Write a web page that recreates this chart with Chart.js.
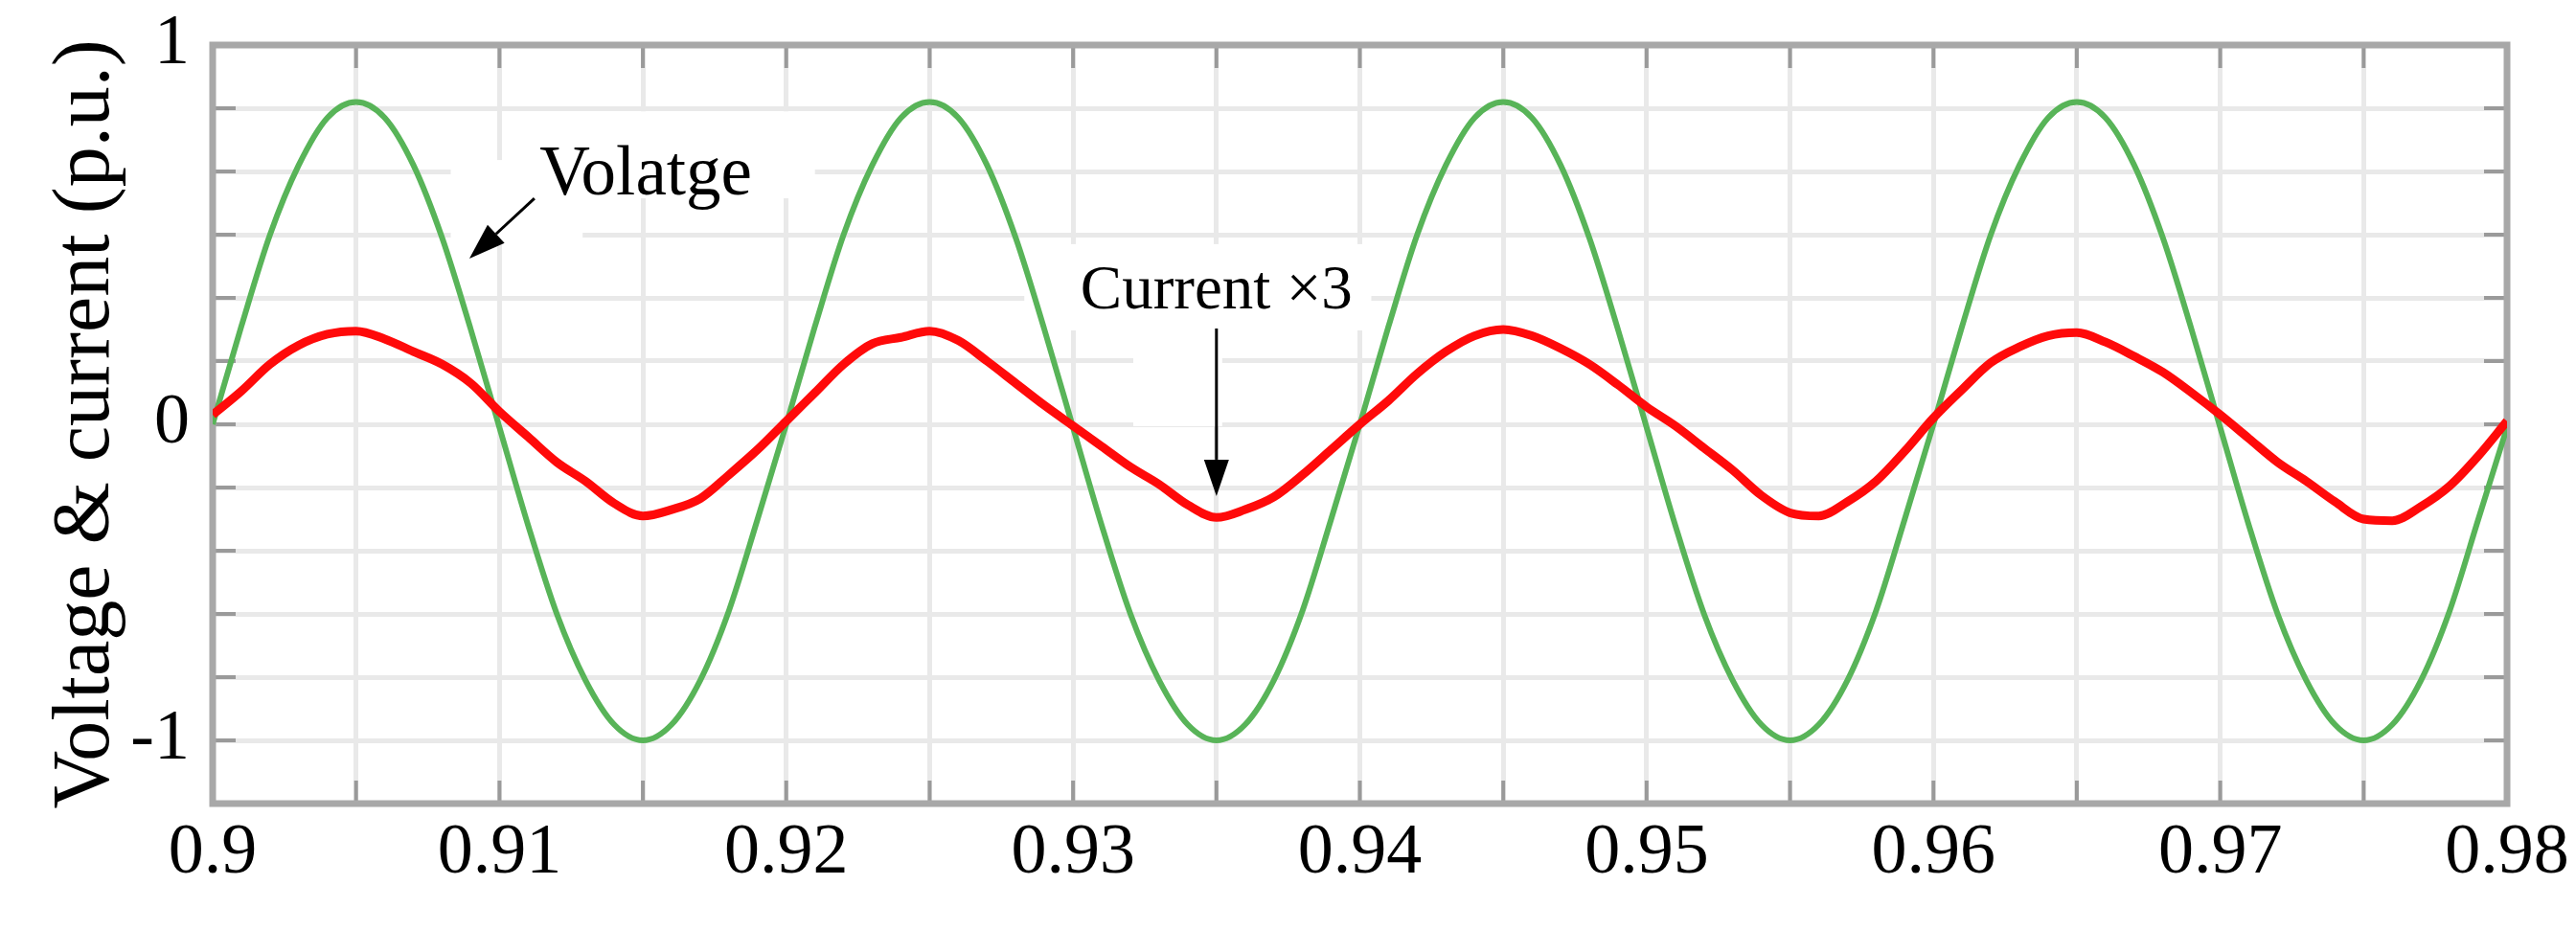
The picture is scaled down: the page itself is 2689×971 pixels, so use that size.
<!DOCTYPE html>
<html>
<head>
<meta charset="utf-8">
<script src="https://cdn.jsdelivr.net/npm/chart.js@4.4.0/dist/chart.umd.min.js"></script>
<style>
html, body { margin: 0; padding: 0; background: #fff; }
#wrap { width: 2689px; height: 971px; }
</style>
</head>
<body>
<div id="wrap"><canvas id="mycanvas"></canvas></div>
<script>
// time (s)
var timeS = [
	0.900, 0.901, 0.902, 0.903, 0.904, 0.905, 0.906, 0.907, 0.908, 0.909,
	0.910, 0.911, 0.912, 0.913, 0.914, 0.915, 0.916, 0.917, 0.918, 0.919,
	0.920, 0.921, 0.922, 0.923, 0.924, 0.925, 0.926, 0.927, 0.928, 0.929,
	0.930, 0.931, 0.932, 0.933, 0.934, 0.935, 0.936, 0.937, 0.938, 0.939,
	0.940, 0.941, 0.942, 0.943, 0.944, 0.945, 0.946, 0.947, 0.948, 0.949,
	0.950, 0.951, 0.952, 0.953, 0.954, 0.955, 0.956, 0.957, 0.958, 0.959,
	0.960, 0.961, 0.962, 0.963, 0.964, 0.965, 0.966, 0.967, 0.968, 0.969,
	0.970, 0.971, 0.972, 0.973, 0.974, 0.975, 0.976, 0.977, 0.978, 0.979,
	0.980
];

var voltage = [
	0.00, 0.31, 0.60, 0.82, 0.97, 1.02, 0.97, 0.82, 0.59, 0.30,
	-0.01, -0.32, -0.60, -0.81, -0.95, -1.00, -0.95, -0.81, -0.59, -0.30,
	0.00, 0.31, 0.60, 0.82, 0.97, 1.02, 0.97, 0.82, 0.59, 0.30,
	-0.01, -0.32, -0.60, -0.81, -0.95, -1.00, -0.95, -0.81, -0.59, -0.30,
	0.00, 0.31, 0.60, 0.82, 0.97, 1.02, 0.97, 0.82, 0.59, 0.30,
	-0.01, -0.32, -0.60, -0.81, -0.95, -1.00, -0.95, -0.81, -0.59, -0.30,
	0.00, 0.31, 0.60, 0.82, 0.97, 1.02, 0.97, 0.82, 0.59, 0.30,
	-0.01, -0.32, -0.60, -0.81, -0.95, -1.00, -0.95, -0.81, -0.59, -0.30,
	-0.01
];

// current x3
var current = [
	0.03, 0.105, 0.19, 0.25, 0.285, 0.295, 0.27, 0.23, 0.19, 0.13,
	0.04, -0.04, -0.12, -0.18, -0.25, -0.29, -0.27, -0.235, -0.16, -0.08,
	0.01, 0.10, 0.19, 0.255, 0.275, 0.295, 0.265, 0.20, 0.13, 0.06,
	-0.005, -0.07, -0.135, -0.19, -0.255, -0.295, -0.27, -0.23, -0.16, -0.08,
	0.00, 0.075, 0.16, 0.23, 0.28, 0.30, 0.28, 0.24, 0.19, 0.125,
	0.055, -0.005, -0.075, -0.145, -0.225, -0.28, -0.29, -0.245, -0.18, -0.085,
	0.02, 0.11, 0.195, 0.245, 0.28, 0.29, 0.26, 0.215, 0.165, 0.10,
	0.03, -0.045, -0.12, -0.18, -0.245, -0.30, -0.305, -0.26, -0.195, -0.10,
	0.01
];

var xTickLabels = ['0.9', '0.91', '0.92', '0.93', '0.94', '0.95', '0.96', '0.97', '0.98'];
var yTickValues = [1.2, 0, -1];
var yTickLabels = ['1', '0', '-1'];

var serif = "'Liberation Serif', 'Times New Roman', serif";

// notes drawn on the plot, in axis units
var notes = {
	patches: [
		[0.9125, 0.9210, 0.99, 0.715],
		[0.9083, 0.9129, 0.836, 0.576],
		[0.9283, 0.9404, 0.57, 0.297],
		[0.9321, 0.9352, 0.297, -0.006]
	],
	texts: [
		{ text: 'Volatge', x: 0.9114, y: 0.727, align: 'left', size: 73 },
		{ text: 'Current \u00d73', x: 0.935, y: 0.367, align: 'center', size: 65 }
	],
	arrows: [
		[0.91122, 0.715, 0.90895, 0.524],
		[0.935, 0.303, 0.935, -0.227]
	]
};

function drawArrow(ctx, x0, y0, x1, y1) {
	var len = 38, half = 13;
	var ang = Math.atan2(y1 - y0, x1 - x0);
	var bx = x1 - len * Math.cos(ang), by = y1 - len * Math.sin(ang);
	ctx.beginPath();
	ctx.moveTo(x0, y0);
	ctx.lineTo(bx, by);
	ctx.stroke();
	ctx.beginPath();
	ctx.moveTo(x1, y1);
	ctx.lineTo(bx + half * Math.sin(ang), by - half * Math.cos(ang));
	ctx.lineTo(bx - half * Math.sin(ang), by + half * Math.cos(ang));
	ctx.closePath();
	ctx.fill();
}

var framePlugin = {
	id: 'framePlugin',
	beforeDatasetsDraw: function(chart) {
		var ctx = chart.ctx, xs = chart.scales.x, ys = chart.scales.y, a = chart.chartArea;
		ctx.save();
		ctx.fillStyle = '#fff';
		notes.patches.forEach(function(p) {
			var x0 = xs.getPixelForValue(p[0]), x1 = xs.getPixelForValue(p[1]);
			var y0 = ys.getPixelForValue(p[2]), y1 = ys.getPixelForValue(p[3]);
			ctx.fillRect(x0, y0, x1 - x0, y1 - y0);
		});
		// matlab style inner ticks
		ctx.strokeStyle = '#9a9a9a';
		ctx.lineWidth = 4;
		ctx.beginPath();
		ys.ticks.forEach(function(t) {
			var y = ys.getPixelForValue(t.value);
			ctx.moveTo(a.left, y); ctx.lineTo(a.left + 24, y);
			ctx.moveTo(a.right, y); ctx.lineTo(a.right - 24, y);
		});
		xs.ticks.forEach(function(t) {
			var x = xs.getPixelForValue(t.value);
			ctx.moveTo(x, a.top); ctx.lineTo(x, a.top + 24);
			ctx.moveTo(x, a.bottom); ctx.lineTo(x, a.bottom - 24);
		});
		ctx.stroke();
		ctx.strokeStyle = '#a8a8a8';
		ctx.lineWidth = 7;
		ctx.strokeRect(a.left, a.top, a.right - a.left, a.bottom - a.top);
		ctx.restore();
	},
	afterDatasetsDraw: function(chart) {
		var ctx = chart.ctx, xs = chart.scales.x, ys = chart.scales.y;
		ctx.save();
		ctx.fillStyle = '#000';
		ctx.strokeStyle = '#000';
		ctx.lineWidth = 3;
		ctx.textBaseline = 'alphabetic';
		notes.texts.forEach(function(t) {
			ctx.font = t.size + 'px ' + serif;
			ctx.textAlign = t.align;
			ctx.fillText(t.text, xs.getPixelForValue(t.x), ys.getPixelForValue(t.y));
		});
		notes.arrows.forEach(function(r) {
			drawArrow(ctx, xs.getPixelForValue(r[0]), ys.getPixelForValue(r[1]),
				xs.getPixelForValue(r[2]), ys.getPixelForValue(r[3]));
		});
		ctx.restore();
	}
};

var ctx = document.getElementById('mycanvas');

var LineGraph = new Chart(ctx, {
	type: 'line',
	data: {
		labels: timeS,
		datasets: [
			{
				label: 'Current x3',
				data: current,
				borderColor: '#ff0a0a',
				borderWidth: 9,
				cubicInterpolationMode: 'monotone',
				pointRadius: 0,
				fill: false
			},
			{
				label: 'Voltage',
				data: voltage,
				borderColor: '#58b458',
				borderWidth: 6,
				cubicInterpolationMode: 'monotone',
				pointRadius: 0,
				fill: false
			}
		]
	},
	options: {
		responsive: true,
		maintainAspectRatio: false,
		animation: false,
		layout: { padding: { top: 47, right: 72, left: 0, bottom: 0 } },
		plugins: {
			legend: { display: false },
			tooltip: { enabled: false }
		},
		scales: {
			x: {
				type: 'linear',
				min: 0.9,
				max: 0.98,
				grid: { color: '#e9e9e9', lineWidth: 5, drawTicks: false },
				border: { display: false },
				ticks: {
					stepSize: 0.005,
					autoSkip: false,
					maxRotation: 0,
					padding: 8,
					color: '#000',
					font: { family: serif, size: 74 },
					callback: function(v) {
						var i = Math.round((v - 0.9) * 200);
						return i % 2 === 0 ? xTickLabels[i / 2] : '';
					}
				},
				afterFit: function(s) {
					s.height = 132;
					s.paddingLeft = 0;
					s.paddingRight = 0;
				}
			},
			y: {
				min: -1.2,
				max: 1.2,
				grid: { color: '#e9e9e9', lineWidth: 5, drawTicks: false },
				border: { display: false },
				ticks: {
					stepSize: 0.2,
					autoSkip: false,
					padding: 24,
					color: '#000',
					font: { family: serif, size: 74 },
					callback: function(v) {
						for (var i = 0; i < yTickValues.length; i++) {
							if (Math.abs(v - yTickValues[i]) < 1e-6) return yTickLabels[i];
						}
						return '';
					}
				},
				title: {
					display: true,
					text: 'Voltage & current (p.u.)',
					color: '#000',
					font: { family: serif, size: 84 },
					padding: { top: 41, bottom: 0 }
				},
				afterFit: function(s) {
					s.width = 222;
					s.paddingTop = 0;
					s.paddingBottom = 0;
				}
			}
		}
	},
	plugins: [framePlugin]
});
</script>
</body>
</html>
